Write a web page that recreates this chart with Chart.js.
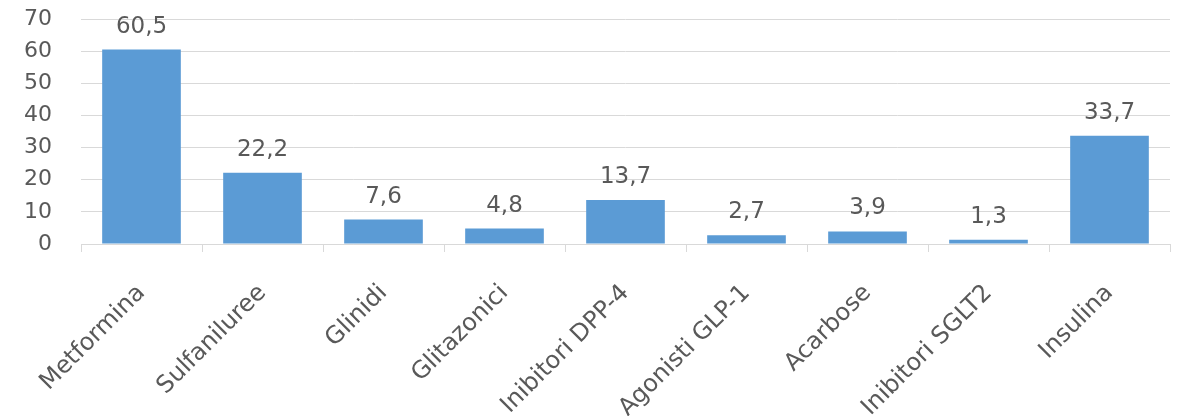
<!DOCTYPE html>
<html>
<head>
<meta charset="utf-8">
<script src="https://cdn.jsdelivr.net/npm/chart.js@4"></script>
<style>
  html, body { margin: 0; padding: 0; background: #fff; }
  #wrap { width: 1182px; height: 416px; }
</style>
</head>
<body>
<div id="wrap"><canvas id="myChart"></canvas></div>
<script>
// chart data
var categories = ['Metformina', 'Sulfaniluree', 'Glinidi', 'Glitazonici', 'Inibitori DPP-4',
                  'Agonisti GLP-1', 'Acarbose', 'Inibitori SGLT2', 'Insulina'];
var values = [60.5, 22.2, 7.6, 4.8, 13.7, 2.7, 3.9, 1.3, 33.7];
var yTicks = [0, 10, 20, 30, 40, 50, 60, 70];

var textColor = '#595959';
var gridColor = '#d9d9d9';
var fontFamily = '"DejaVu Sans", sans-serif';

// draws the value above each bar, with a decimal comma
var valueLabels = {
    id: 'valueLabels',
    afterDatasetsDraw: function(chart) {
        var ctx = chart.ctx;
        var meta = chart.getDatasetMeta(0);
        ctx.save();
        ctx.font = '23px ' + fontFamily;
        ctx.fillStyle = textColor;
        ctx.textAlign = 'center';
        ctx.textBaseline = 'alphabetic';
        meta.data.forEach(function(bar, i) {
            var txt = values[i].toFixed(1).replace('.', ',');
            ctx.fillText(txt, bar.x, bar.y - 17);
        });
        ctx.restore();
    }
};

var ctx = document.getElementById('myChart').getContext('2d');
var myChart = new Chart(ctx, {
    type: 'bar',
    data: {
        labels: categories,
        datasets: [{
            data: values,
            backgroundColor: '#5b9bd5',
            borderWidth: 0,
            categoryPercentage: 1,
            barPercentage: 0.65
        }]
    },
    options: {
        responsive: true,
        maintainAspectRatio: false,
        animation: false,
        layout: { padding: { top: 19, left: 0, right: 12, bottom: 0 } },
        plugins: {
            legend: { display: false },
            tooltip: { enabled: false }
        },
        scales: {
            x: {
                afterFit: function(scale) {
                    scale.paddingLeft = 0;
                    scale.paddingRight = 0;
                    scale.height = 172;
                },
                grid: {
                    offset: true,
                    drawOnChartArea: false,
                    drawTicks: true,
                    tickLength: 8,
                    color: gridColor
                },
                border: { display: true, color: gridColor, width: 1 },
                ticks: {
                    color: textColor,
                    font: { family: fontFamily, size: 24 },
                    maxRotation: 45,
                    minRotation: 45,
                    padding: 27,
                    autoSkip: false
                }
            },
            y: {
                min: 0,
                max: 70,
                afterBuildTicks: function(axis) {
                    axis.ticks = yTicks.map(function(v) { return { value: v }; });
                },
                afterFit: function(axis) {
                    axis.width = 81;
                    axis.paddingTop = 0;
                    axis.paddingBottom = 0;
                },
                grid: { color: gridColor, drawTicks: false },
                border: { display: false },
                ticks: {
                    color: textColor,
                    font: { family: fontFamily, size: 22 },
                    padding: 29,
                    autoSkip: false
                }
            }
        }
    },
    plugins: [valueLabels]
});
</script>
</body>
</html>
